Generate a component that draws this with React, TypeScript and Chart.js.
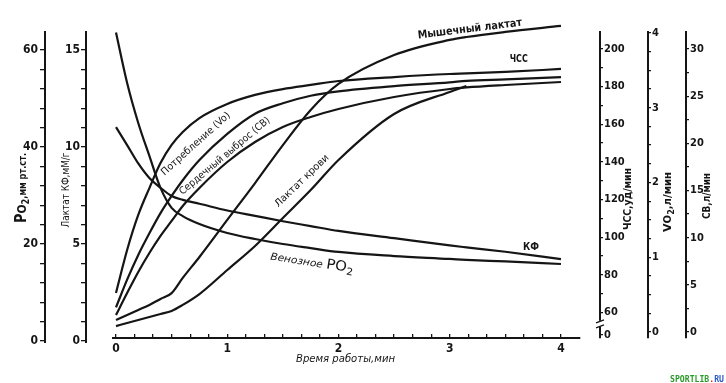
import React, { useEffect, useRef } from 'react';
import { Chart, registerables } from 'chart.js';

Chart.register(...registerables);

const INK = '#151515';
const FONT = "'Liberation Sans Narrow', 'DejaVu Sans Condensed', 'Arial Narrow', sans-serif";

// Time of work, minutes
const minutes = [0, 0.1, 0.2, 0.3, 0.4, 0.5, 0.6, 0.75, 1, 1.25, 1.5, 1.75, 2, 2.5, 3, 3.15, 3.5, 4];
// ЧСС, уд/мин
const heartRate = [70.4, 93.2, 111.8, 126.1, 139.4, 149.0, 155.9, 163.3, 170.8, 175.6, 178.7, 180.9, 183.0, 185.1, 186.7, 187.0, 187.8, 189.4];
// VO2, л/мин
const oxygenUptake = [0.33, 0.7, 1.03, 1.32, 1.59, 1.82, 2.03, 2.3, 2.65, 2.92, 3.06, 3.16, 3.22, 3.29, 3.34, 3.36, 3.38, 3.41];
// СВ, л/мин
const cardiacOutput = [1.8, 4.13, 6.36, 8.37, 10.18, 11.77, 13.36, 15.27, 18.02, 20.14, 21.73, 22.79, 23.64, 24.91, 25.76, 25.92, 26.18, 26.5];
// Мышечный лактат, мМ/г
const muscleLactate = [1.08, 1.34, 1.6, 1.86, 2.17, 2.47, 3.25, 4.33, 6.24, 8.14, 10.1, 11.91, 13.25, 14.74, 15.52, 15.67, 15.93, 16.24];
// Лактат крови
const bloodLactate = [0.77, 0.93, 1.08, 1.24, 1.39, 1.55, 1.86, 2.42, 3.66, 4.9, 6.34, 7.78, 9.33, 11.7, 12.84, 13.14, null, null];
// КФ, мМ/г
const creatinePhosphate = [15.9, 13.3, 11.24, 9.54, 7.89, 6.86, 6.44, 6.03, 5.57, 5.26, 5.0, 4.79, 4.59, 4.38, 4.23, 4.18, 4.1, 3.97];
// Венозное PO2, мм рт.ст.
const venousPO2 = [44.1, 40.4, 36.6, 33.6, 31.6, 29.9, 29.1, 28.3, 26.9, 25.8, 24.7, 23.7, 22.7, 21.2, 19.7, 19.3, 18.4, 16.9];

// Tick labels
const timeLabels = [0, 1, 2, 3, 4];
const po2Labels = [0, 20, 40, 60];
const lactateLabels = [0, 5, 10, 15];
const hrLabels = [60, 80, 100, 120, 140, 160, 180, 200];
const vo2Labels = [0, 1, 2, 3, 4];
const cbLabels = [0, 5, 10, 15, 20, 25, 30];
const hrBreakValue = 48.03; // position of the "0" beneath the axis break

function steps(from: number, to: number, n: number) {
  const out: number[] = [];
  for (let i = 0; i <= n; i++) out.push(from + ((to - from) * i) / n);
  return out;
}
const near = (a: number, b: number) => Math.abs(a - b) < 1e-6;

function vAxis(position: string, weight: number, min: number, max: number, width: number,
  tickValues: number[], labels: number[], tickLength: number, padding: number, size: number, extra?: (v: number) => string | null) {
  return {
    type: 'linear', position, weight, min, max,
    afterFit: (s: any) => { s.width = width; },
    afterBuildTicks: (s: any) => { s.ticks = tickValues.map((v) => ({ value: v })); },
    grid: { drawOnChartArea: false, drawTicks: true, tickLength, color: INK, lineWidth: 1.3 },
    border: { display: true, color: INK, width: 2 },
    ticks: {
      autoSkip: false, padding, color: INK,
      font: { family: FONT, size, weight: 'bold' },
      callback: (v: number) => {
        if (extra) { const e = extra(v); if (e !== null) return e; }
        const l = labels.find((x) => near(x, v));
        return l === undefined ? '' : String(l);
      },
    },
  };
}

function dummy(position: string, weight: number, width: number) {
  return {
    type: 'linear', position, weight,
    afterFit: (s: any) => { s.width = width; },
    grid: { display: false }, border: { display: false }, ticks: { display: false },
  };
}

type Seg = { t: string; size: number; style?: string; dy?: number };

function drawRich(ctx: CanvasRenderingContext2D, segs: Seg[], cx: number, cy: number, angle: number, len?: number, color = INK) {
  ctx.save();
  ctx.translate(cx, cy);
  ctx.rotate((angle * Math.PI) / 180);
  let total = 0;
  const widths = segs.map((s) => {
    ctx.font = `${s.style || 'normal'} ${s.size}px ${FONT}`;
    const w = ctx.measureText(s.t).width;
    total += w;
    return w;
  });
  const sx = len ? len / total : 1;
  ctx.scale(sx, 1);
  ctx.textAlign = 'left';
  ctx.textBaseline = 'alphabetic';
  ctx.fillStyle = color;
  let x = -total / 2;
  segs.forEach((s, i) => {
    ctx.font = `${s.style || 'normal'} ${s.size}px ${FONT}`;
    ctx.fillText(s.t, x, 4 + (s.dy || 0));
    x += widths[i];
  });
  ctx.restore();
}

const annotations = {
  id: 'annotations',
  afterDraw(chart: any) {
    const { ctx, scales, chartArea } = chart;
    const X = (t: number) => scales.x.getPixelForValue(t);
    const Y = (id: string, v: number) => scales[id].getPixelForValue(v);
    // curve labels
    drawRich(ctx, [{ t: 'Мышечный лактат', size: 11, style: 'bold' }], X(3.18), Y('yLac', 16.13), -7, 105);
    drawRich(ctx, [{ t: 'ЧСС', size: 10, style: 'bold' }], X(3.62), Y('yHR', 195.2), 0, 18);
    drawRich(ctx, [{ t: 'Потребление (Vo)', size: 10 }], X(0.71), Y('yVO2', 2.53), -42, 89);
    drawRich(ctx, [{ t: 'Сердечный выброс (СВ)', size: 10 }], X(0.97), Y('yCB', 18.76), -40, 115);
    drawRich(ctx, [{ t: 'Лактат крови', size: 10 }], X(1.663), Y('yLac', 8.3), -44, 71);
    drawRich(ctx, [
      { t: 'Венозное ', size: 10, style: 'italic' },
      { t: 'PO', size: 14 },
      { t: '2', size: 10, dy: 3 },
    ], X(1.762), Y('yPO2', 16.29), 9, 84);
    drawRich(ctx, [{ t: 'КФ', size: 10, style: 'bold' }], X(3.73), Y('yLac', 4.9), 0, 16);

    // axis titles
    const midY = (chartArea.top + chartArea.bottom) / 2;
    drawRich(ctx, [
      { t: 'P', size: 16, style: 'bold' },
      { t: 'O', size: 13, style: 'bold' },
      { t: '2', size: 10, style: 'bold', dy: 3 },
      { t: ',мм рт.ст.', size: 10, style: 'bold' },
    ], scales.yPO2.left + 22, midY + 3, -90, 70);
    drawRich(ctx, [{ t: 'Лактат КФ,мМ/г', size: 10 }], scales.yLac.left + 20, midY + 5, -90, 75);
    drawRich(ctx, [{ t: 'ЧСС,уд/мин', size: 10, style: 'bold' }], scales.yHR.left + 27, midY + 14, -90, 62);
    drawRich(ctx, [
      { t: 'V', size: 11, style: 'bold' },
      { t: 'O', size: 10, style: 'bold' },
      { t: '2', size: 8, style: 'bold', dy: 3 },
      { t: ',л/мин', size: 10, style: 'bold' },
    ], scales.yVO2.left + 19, midY + 17, -90, 60);
    drawRich(ctx, [{ t: 'СВ,л/мин', size: 10, style: 'bold' }], scales.yCB.left + 20, midY + 11, -90, 46);
    drawRich(ctx, [{ t: 'Время работы,мин', size: 11, style: 'italic' }], (chartArea.left + chartArea.right) / 2 - 1, chartArea.bottom + 20, 0, 99);

    // left axis lines run a little past the zero tick
    ctx.save();
    ctx.strokeStyle = INK;
    ctx.lineWidth = 2;
    ctx.beginPath();
    [scales.yPO2.right, scales.yLac.right].forEach((ax: number) => {
      ctx.moveTo(ax, chartArea.bottom - 1);
      ctx.lineTo(ax, Y('yPO2', 0) + 2);
    });
    ctx.stroke();
    ctx.restore();

    // axis break on the ЧСС axis
    const bx = scales.yHR.left;
    const by = Y('yHR', 54);
    ctx.save();
    ctx.fillStyle = '#fff';
    ctx.fillRect(bx - 3, by - 3, 6, 6);
    ctx.strokeStyle = INK;
    ctx.lineWidth = 1.3;
    ctx.beginPath();
    ctx.moveTo(bx - 4, by - 1); ctx.lineTo(bx + 4, by - 4);
    ctx.moveTo(bx - 4, by + 4); ctx.lineTo(bx + 4, by + 1);
    ctx.stroke();
    ctx.restore();

    // watermark
    ctx.save();
    ctx.font = `bold 9px 'DejaVu Sans Mono', monospace`;
    ctx.textBaseline = 'alphabetic';
    ctx.textAlign = 'left';
    const parts: [string, string][] = [['SPORTLIB', '#2a9a2a'], ['.', '#e02020'], ['RU', '#2a5ac8']];
    const tot = parts.reduce((a, p) => a + ctx.measureText(p[0]).width, 0);
    ctx.translate(670, 382);
    ctx.scale(54 / tot, 1);
    let px = 0;
    parts.forEach(([t, c]) => { ctx.fillStyle = c; ctx.fillText(t, px, 0); px += ctx.measureText(t).width; });
    ctx.restore();
  },
};

const series = [
  { label: 'ЧСС', values: heartRate, axis: 'yHR' },
  { label: 'Потребление (VO2)', values: oxygenUptake, axis: 'yVO2' },
  { label: 'Сердечный выброс (СВ)', values: cardiacOutput, axis: 'yCB' },
  { label: 'Мышечный лактат', values: muscleLactate, axis: 'yLac' },
  { label: 'Лактат крови', values: bloodLactate, axis: 'yLac' },
  { label: 'КФ', values: creatinePhosphate, axis: 'yLac' },
  { label: 'Венозное PO2', values: venousPO2, axis: 'yPO2' },
];

export default function App() {
  const ref = useRef<HTMLCanvasElement>(null);
  useEffect(() => {
    const xTicks = steps(0, 4, 24);
    const chart = new Chart(ref.current as HTMLCanvasElement, {
      type: 'line',
      data: {
        datasets: series.map((s) => ({
          label: s.label,
          data: minutes.map((t, i) => ({ x: t, y: s.values[i] })),
          yAxisID: s.axis,
          xAxisID: 'x',
          borderColor: INK,
          borderWidth: 2.2,
          pointRadius: 0,
          fill: false,
          cubicInterpolationMode: 'monotone',
          clip: false,
        })) as any,
      },
      options: {
        responsive: false,
        animation: false,
        events: [],
        layout: { padding: { top: 32, left: 0, right: 0, bottom: 0 } },
        plugins: { legend: { display: false }, tooltip: { enabled: false }, title: { display: false } },
        scales: {
          x: {
            type: 'linear', position: 'bottom', min: -0.027, max: 4.171,
            afterFit: (s: any) => { s.height = 45; },
            afterBuildTicks: (s: any) => { s.ticks = xTicks.map((v) => ({ value: v })); },
            grid: { drawOnChartArea: false, tickLength: -4, color: INK, lineWidth: 1.3 },
            border: { color: INK, width: 2 },
            ticks: {
              autoSkip: false, maxRotation: 0, padding: 8, color: INK,
              font: { family: FONT, size: 12, weight: 'bold' },
              callback: (v: number) => { const l = timeLabels.find((x) => near(x, v)); return l === undefined ? '' : String(l); },
            },
          },
          yPO2: vAxis('left', 3, 0.619, 63.711, 45, steps(0, 60, 15), po2Labels, 5, 2, 12),
          yLac: vAxis('left', 2, 0.155, 15.928, 41, steps(0, 15, 15), lactateLabels, 5, 1, 12),
          yPadL: dummy('left', 1, 27),
          yPadR: dummy('right', 0, 20),
          yHR: vAxis('right', 1, 46.44, 209.03, 48, [hrBreakValue, ...steps(60, 200, 14)], hrLabels, 3, 1, 11,
            (v) => (near(v, hrBreakValue) ? '0' : null)),
          yVO2: vAxis('right', 2, -0.0803, 4.0134, 38, steps(0, 4, 16), vo2Labels, 3, 1, 11),
          yCB: vAxis('right', 3, -0.636, 31.8, 40, steps(0, 30, 12), cbLabels, 3, 1, 11),
        } as any,
      },
      plugins: [annotations],
    });
    return () => chart.destroy();
  }, []);
  return (
    <div style={{ position: 'absolute', left: 0, top: 0, width: 726, height: 383, background: '#fff' }}>
      <canvas ref={ref} width={726} height={383} style={{ display: 'block', width: 726, height: 383 }} />
    </div>
  );
}
